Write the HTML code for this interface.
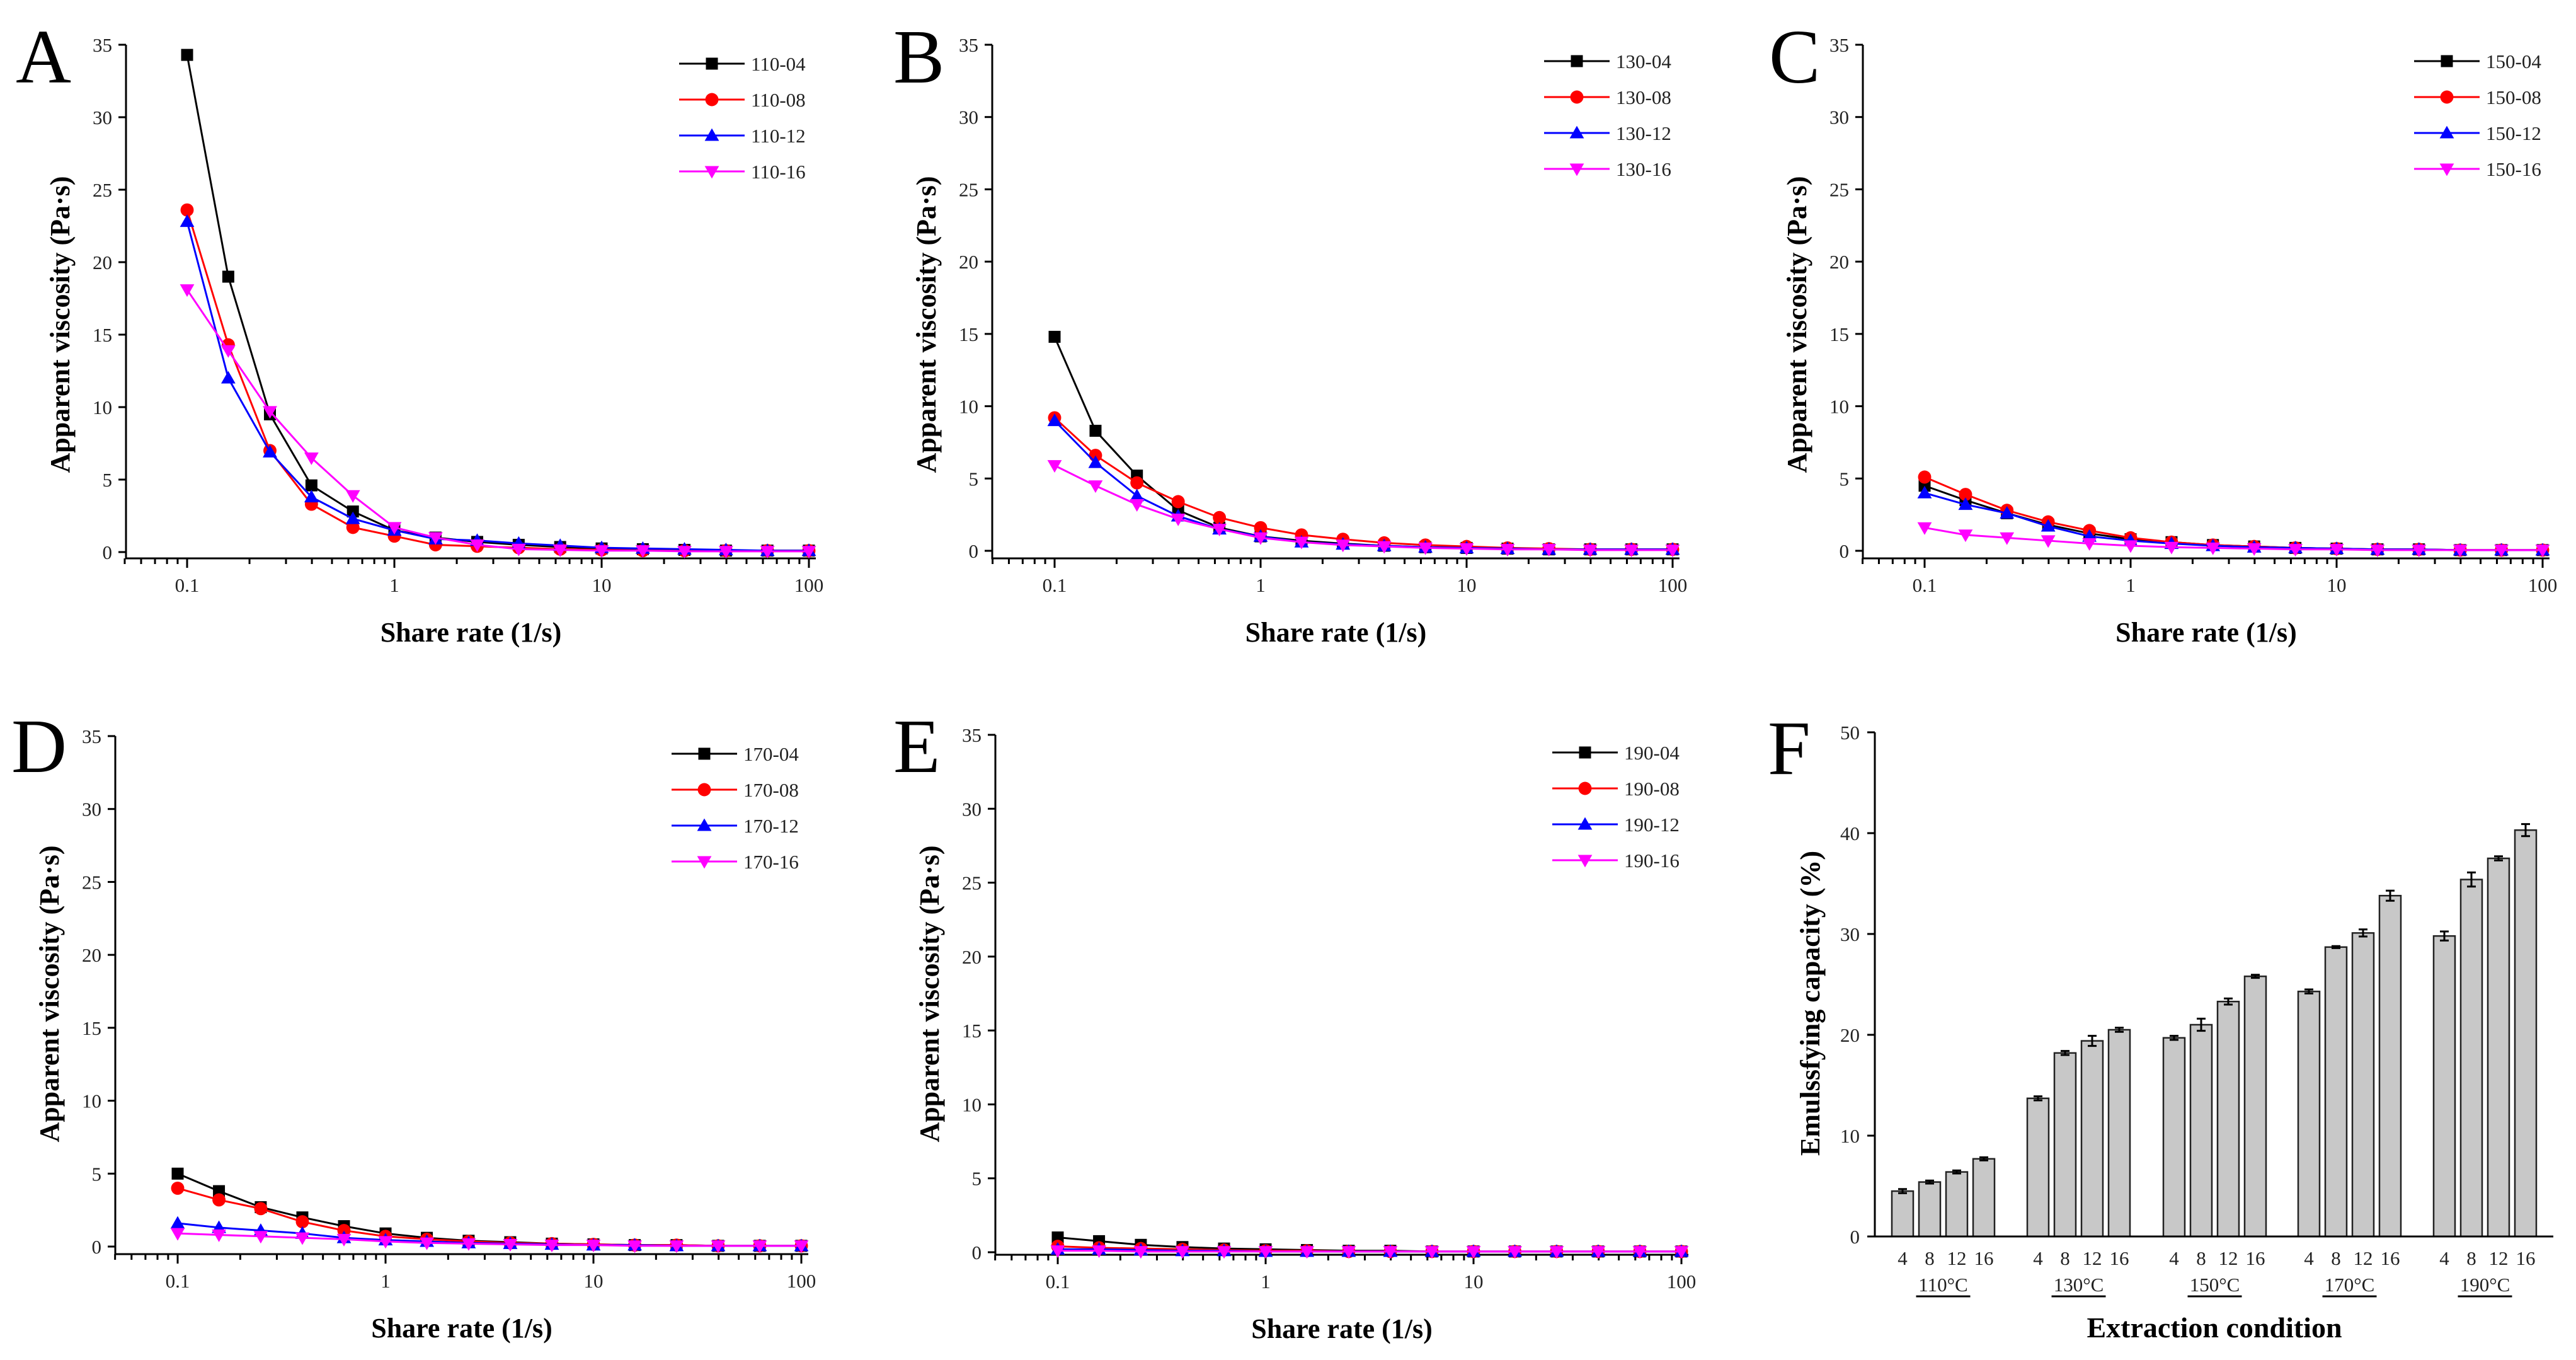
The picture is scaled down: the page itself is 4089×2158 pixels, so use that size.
<!DOCTYPE html>
<html><head><meta charset="utf-8"><style>
html,body{margin:0;padding:0;background:#fff;}
svg{display:block;font-family:"Liberation Serif","Times New Roman",serif;}
</style></head><body>
<svg id="fig" width="4089" height="2158" viewBox="0 0 4089 2158"></svg>
<script>
// ---- data ----
const shearRates = [0.1,0.158,0.251,0.398,0.631,1,1.58,2.51,3.98,6.31,10,15.8,25.1,39.8,63.1,100];
const seriesNames110 = ["110-04","110-08","110-12","110-16"];
const v110_04 = [34.3,19,9.5,4.6,2.8,1.5,1.0,0.7,0.5,0.35,0.25,0.2,0.15,0.1,0.1,0.1];
const v110_08 = [23.6,14.3,7.0,3.3,1.7,1.1,0.5,0.4,0.3,0.2,0.15,0.1,0.1,0.1,0.1,0.1];
const v110_12 = [22.8,12,6.9,3.8,2.3,1.5,0.9,0.8,0.6,0.45,0.3,0.25,0.2,0.15,0.1,0.1];
const v110_16 = [18.1,13.9,9.7,6.5,3.9,1.7,1.0,0.5,0.2,0.15,0.1,0.1,0.05,0.05,0.05,0.05];
const seriesNames130 = ["130-04","130-08","130-12","130-16"];
const v130_04 = [14.8,8.3,5.2,2.8,1.6,1.0,0.7,0.5,0.35,0.25,0.2,0.15,0.1,0.1,0.1,0.1];
const v130_08 = [9.2,6.6,4.7,3.4,2.3,1.6,1.1,0.8,0.55,0.4,0.3,0.2,0.15,0.1,0.1,0.1];
const v130_12 = [9.0,6.1,3.8,2.4,1.5,1.0,0.6,0.45,0.35,0.25,0.2,0.15,0.1,0.1,0.1,0.1];
const v130_16 = [5.9,4.5,3.2,2.2,1.5,0.9,0.6,0.4,0.3,0.2,0.15,0.1,0.1,0.05,0.05,0.05];
const seriesNames150 = ["150-04","150-08","150-12","150-16"];
const v150_04 = [4.5,3.5,2.6,1.8,1.2,0.8,0.6,0.4,0.3,0.2,0.15,0.1,0.1,0.05,0.05,0.05];
const v150_08 = [5.1,3.9,2.8,2.0,1.4,0.9,0.6,0.4,0.3,0.2,0.15,0.1,0.1,0.05,0.05,0.05];
const v150_12 = [4.0,3.2,2.6,1.7,1.0,0.7,0.5,0.35,0.25,0.2,0.15,0.1,0.1,0.05,0.05,0.05];
const v150_16 = [1.6,1.1,0.9,0.7,0.5,0.35,0.25,0.2,0.15,0.1,0.1,0.05,0.05,0.05,0.05,0.05];
const seriesNames170 = ["170-04","170-08","170-12","170-16"];
const v170_04 = [5.0,3.8,2.7,2.0,1.4,0.9,0.6,0.4,0.3,0.2,0.15,0.1,0.1,0.05,0.05,0.05];
const v170_08 = [4.0,3.2,2.6,1.7,1.1,0.7,0.5,0.35,0.25,0.2,0.15,0.1,0.1,0.05,0.05,0.05];
const v170_12 = [1.6,1.3,1.1,0.9,0.6,0.45,0.35,0.25,0.2,0.15,0.1,0.1,0.05,0.05,0.05,0.05];
const v170_16 = [0.9,0.8,0.7,0.6,0.5,0.35,0.25,0.2,0.15,0.1,0.1,0.05,0.05,0.05,0.05,0.05];
const seriesNames190 = ["190-04","190-08","190-12","190-16"];
const v190_04 = [1.0,0.75,0.5,0.35,0.25,0.2,0.15,0.1,0.1,0.05,0.05,0.05,0.05,0.05,0.05,0.05];
const v190_08 = [0.4,0.3,0.25,0.2,0.15,0.1,0.1,0.05,0.05,0.05,0.05,0.05,0.05,0.05,0.05,0.05];
const v190_12 = [0.2,0.2,0.15,0.1,0.1,0.05,0.05,0.05,0.05,0.05,0.05,0.05,0.05,0.05,0.05,0.05];
const v190_16 = [0.1,0.1,0.05,0.05,0.05,0.05,0.05,0.05,0.05,0.05,0.05,0.05,0.05,0.05,0.05,0.05];
const yTicks = [0,5,10,15,20,25,30,35];
const xTickLabels = ["0.1","1","10","100"];
const xTickValues = [0.1,1,10,100];

const barGroups = ["110°C","130°C","150°C","170°C","190°C"];
const barTimes = ["4","8","12","16"];
const ec110 = [4.5,5.4,6.4,7.7];
const ec130 = [13.7,18.2,19.4,20.5];
const ec150 = [19.7,21.0,23.3,25.8];
const ec170 = [24.3,28.7,30.1,33.8];
const ec190 = [29.8,35.4,37.5,40.3];
const err110 = [0.2,0.15,0.15,0.15];
const err130 = [0.2,0.2,0.5,0.2];
const err150 = [0.2,0.6,0.3,0.15];
const err170 = [0.2,0.1,0.35,0.5];
const err190 = [0.45,0.7,0.2,0.6];
const ecTicks = [0,10,20,30,40,50];

const NS="http://www.w3.org/2000/svg";
const svg=document.getElementById('fig');
function mk(tag,attrs,parent,text){const e=document.createElementNS(NS,tag);for(const k in attrs)e.setAttribute(k,attrs[k]);if(text!==undefined)e.textContent=text;(parent||svg).appendChild(e);return e;}
const colors=["#000000","#ff0000","#0000ff","#ff00ff"];

function marker(g,k,x,y,s){
  let m;
  if(k===0)m=mk('rect',{x:x-s/2,y:y-s/2,width:s,height:s,fill:colors[0]},g);
  else if(k===1)m=mk('circle',{cx:x,cy:y,r:s*0.55,fill:colors[1]},g);
  else if(k===2)m=mk('polygon',{points:`${x},${y-s*0.6} ${x+s*0.6},${y+s*0.45} ${x-s*0.6},${y+s*0.45}`,fill:colors[2]},g);
  else m=mk('polygon',{points:`${x},${y+s*0.6} ${x+s*0.6},${y-s*0.45} ${x-s*0.6},${y-s*0.45}`,fill:colors[3]},g);
  return m;
}

function linePanel(p){
  const g=mk('g',{});
  
  
  const dec=p.dec;
  const X=v=>p.x01+(Math.log10(v)+1)*dec;
  const Y=v=>p.y0+(p.y35-p.y0)*v/35;
  const xr=X(108);
  // letter
  const L=mk('text',{x:p.lx,y:p.ly,'font-size':122,fill:'#000'},g,p.letter);
  
  
  // axes
  const ya=mk('line',{x1:p.ax,y1:p.y35,x2:p.ax,y2:p.axy,stroke:'#000','stroke-width':3},g);
  
  
  const xa=mk('line',{x1:p.ax-1.5,y1:p.axy,x2:xr,y2:p.axy,stroke:'#000','stroke-width':3},g);
  
  
  yTicks.forEach(t=>{
    mk('line',{x1:p.ax-12,y1:Y(t),x2:p.ax,y2:Y(t),stroke:'#000','stroke-width':3},g);
    const tl=mk('text',{x:p.ax-22,y:Y(t)+11,'font-size':31,'text-anchor':'end',fill:'#222'},g,String(t));
    
    
  });
  for(let d=-2;d<=1;d++){for(let m=1;m<=9;m++){const v=m*Math.pow(10,d);if(v<0.05||v>100)continue;
    const xx=X(v);mk('line',{x1:xx,y1:p.axy,x2:xx,y2:p.axy+(m===1?15:9),stroke:'#000','stroke-width':3},g);}}
  mk('line',{x1:X(100),y1:p.axy,x2:X(100),y2:p.axy+15,stroke:'#000','stroke-width':3},g);
  xTickValues.forEach((v,i)=>{
    const tl=mk('text',{x:X(v),y:p.axy+53,'font-size':31,'text-anchor':'middle',fill:'#222'},g,xTickLabels[i]);
    
    
  });
  const xt=mk('text',{x:(p.ax+xr)/2,y:p.axy+132,'font-size':44,'font-weight':'bold','text-anchor':'middle',fill:'#000'},g,'Share rate (1/s)');
  
  
  const yt=mk('text',{x:0,y:0,'font-size':44,'font-weight':'bold','text-anchor':'middle',transform:`translate(${p.ax-90},${p.ylc}) rotate(-90)`,fill:'#000'},g,'Apparent viscosity (Pa·s)');
  
  
  // series
  p.series.forEach((vals,k)=>{
    const sg=mk('g',{},g);
    
    
    const pts=vals.map((v,i)=>X(shearRates[i])+','+Y(v)).join(' ');
    mk('polyline',{points:pts,fill:'none',stroke:colors[k],'stroke-width':3},sg);
    vals.forEach((v,i)=>{const mm=marker(sg,k,X(shearRates[i]),Y(v),19);
      
      });
  });
  // legend
  p.names.forEach((n,k)=>{
    const yy=p.legY+k*57;
    const lg=mk('g',{},g);
    
    
    mk('line',{x1:p.legX,y1:yy,x2:p.legX+104,y2:yy,stroke:colors[k],'stroke-width':3},lg);
    marker(lg,k,p.legX+52,yy,19);
    mk('text',{x:p.legX+114,y:yy+11,'font-size':31,fill:'#222'},lg,n);
  });
}

linePanel({letter:'A',lx:25,ly:131,ax:200,x01:297,dec:329,y0:876,y35:71,axy:886,ylc:515,legX:1078,legY:101,names:seriesNames110,series:[v110_04,v110_08,v110_12,v110_16]});
linePanel({letter:'B',lx:1418,ly:131,ax:1575,x01:1674,dec:327,y0:874,y35:71,axy:886,ylc:515,legX:2451,legY:97,names:seriesNames130,series:[v130_04,v130_08,v130_12,v130_16]});
linePanel({letter:'C',lx:2808,ly:131,ax:2957,x01:3055,dec:327,y0:874,y35:71,axy:886,ylc:515,legX:3832,legY:97,names:seriesNames150,series:[v150_04,v150_08,v150_12,v150_16]});
linePanel({letter:'D',lx:18,ly:1225,ax:183,x01:282,dec:330,y0:1978,y35:1168,axy:1990,ylc:1577,legX:1066,legY:1196,names:seriesNames170,series:[v170_04,v170_08,v170_12,v170_16]});
linePanel({letter:'E',lx:1418,ly:1225,ax:1580,x01:1679,dec:330,y0:1987,y35:1166,axy:1991,ylc:1577,legX:2464,legY:1194,names:seriesNames190,series:[v190_04,v190_08,v190_12,v190_16]});

// ---- panel F ----
(function(){
  const g=mk('g',{});
  
  
  const ax=2976,y0=1962,y50=1162,xr=4053;
  const Y=v=>y0+(y50-y0)*v/50;
  const groupStart=[3003,3218,3434,3648,3863];
  const bw=34,pitch=43;
  const vals=[ec110,ec130,ec150,ec170,ec190];
  const errs=[err110,err130,err150,err170,err190];
  const L=mk('text',{x:2806,y:1228,'font-size':122,fill:'#000'},g,'F');
  
  
  vals.forEach((arr,gi)=>{
    arr.forEach((v,i)=>{
      const x=groupStart[gi]+i*pitch;
      const b=mk('rect',{x:x,y:Y(v),width:bw,height:y0-Y(v),fill:'#c8c8c8',stroke:'#222','stroke-width':2.5},g);
      
      
      const e=errs[gi][i],cx=x+bw/2;
      const eb=mk('path',{d:`M${cx},${Y(v+e)}V${Y(v-e)}M${cx-7},${Y(v+e)}H${cx+7}M${cx-7},${Y(v-e)}H${cx+7}`,stroke:'#000','stroke-width':3,fill:'none'},g);
      
      
      const t=mk('text',{x:cx,y:2007,'font-size':31,'text-anchor':'middle',fill:'#222'},g,barTimes[i]);
      
      
    });
    const gc=groupStart[gi]+1.5*pitch+bw/2;
    const gl=mk('text',{x:gc,y:2049,'font-size':31,'text-anchor':'middle',fill:'#222'},g,barGroups[gi]);
    
    
    mk('line',{x1:gc-43,y1:2057,x2:gc+43,y2:2057,stroke:'#000','stroke-width':3},g);
  });
  const ya=mk('line',{x1:ax,y1:y50,x2:ax,y2:y0,stroke:'#000','stroke-width':3},g);
  
  
  const xa=mk('line',{x1:ax-1.5,y1:y0,x2:xr,y2:y0,stroke:'#000','stroke-width':3},g);
  
  
  ecTicks.forEach(t=>{
    mk('line',{x1:ax-12,y1:Y(t),x2:ax,y2:Y(t),stroke:'#000','stroke-width':3},g);
    const tl=mk('text',{x:ax-24,y:Y(t)+11,'font-size':31,'text-anchor':'end',fill:'#222'},g,String(t));
    
    
  });
  const xt=mk('text',{x:3515,y:2122,'font-size':46,'font-weight':'bold','text-anchor':'middle',fill:'#000'},g,'Extraction condition');
  
  
  const yt=mk('text',{x:0,y:0,'font-size':44,'font-weight':'bold','text-anchor':'middle',transform:`translate(2888,1592) rotate(-90)`,fill:'#000'},g,'Emulssfying capacity (%)');
  
  
})();
</script>
</body></html>
